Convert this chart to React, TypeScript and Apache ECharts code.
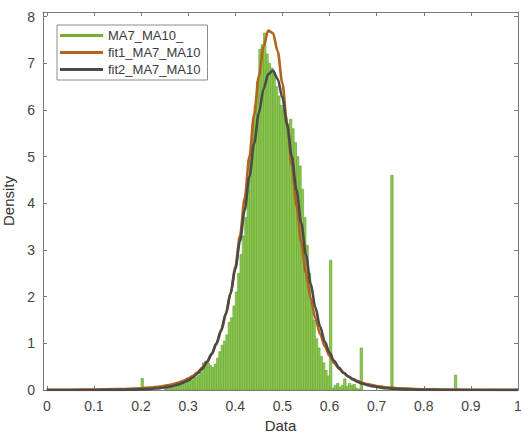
import React, { useEffect, useRef } from 'react';
import * as echarts from 'echarts';

// Histogram (density) — bins of width 0.005 starting at 0.25
const binWidth = 0.005;
const mainStart = 0.25;
const mainDensity = [
  0.02, 0.03, 0.04, 0.05, 0.06, 0.08, 0.09, 0.11, 0.13, 0.16, // 0.250-0.295
  0.18, 0.21, 0.24, 0.27, 0.31, 0.38, 0.58, 0.62, 0.57, 0.52, // 0.300-0.345
  0.48, 0.55, 0.68, 0.82, 0.96, 1.05, 1.18, 1.45, 1.55, 1.8, // 0.350-0.395
  2.1, 2.5, 2.9, 3.3, 3.7, 4.3, 5.0, 5.7, 6.1, 6.6, // 0.400-0.445
  7.3, 7.4, 7.65, 7.2, 7.0, 6.9, 6.8, 6.5, 6.3, 6.1, // 0.450-0.495
  6.0, 5.85, 5.7, 5.8, 5.6, 5.3, 5.0, 4.8, 4.3, 3.7, // 0.500-0.545
  3.1, 2.5, 1.9, 1.5, 1.1, 0.9, 0.72, 0.58, 0.42, 0.3, // 0.550-0.595
  2.78, 0.04, 0.1, 0.14, 0.06, 0.1, 0.24, 0.08, 0.14, 0.1, // 0.600-0.645
  0.12, 0.04, 0.02, 0.9, // 0.650-0.665
];
const spikeStarts = [0.2, 0.73, 0.865];
const spikeDensity = [0.25, 4.6, 0.32];

// Fitted curves
const fitX = [
  0, 0.05, 0.1, 0.15, 0.2, 0.22, 0.24,
  0.25, 0.26, 0.27, 0.28, 0.29, 0.3, 0.31, 0.32, 0.33, 0.34,
  0.35, 0.36, 0.37, 0.38, 0.39, 0.4, 0.41, 0.42, 0.43, 0.44,
  0.45, 0.46, 0.47, 0.48, 0.49, 0.5, 0.51, 0.52, 0.53, 0.54,
  0.55, 0.56, 0.57, 0.58, 0.59, 0.6, 0.61, 0.62, 0.63, 0.64,
  0.65, 0.66, 0.67, 0.68, 0.69, 0.7,
  0.72, 0.75, 0.8, 0.85, 0.9, 0.95, 1,
];
const fit1Y = [
  0.004, 0.005, 0.009, 0.018, 0.038, 0.053, 0.075,
  0.09, 0.108, 0.132, 0.161, 0.198, 0.244, 0.304, 0.38, 0.48, 0.606,
  0.77, 0.985, 1.26, 1.615, 2.07, 2.63, 3.31, 4.11, 5.0, 5.9,
  6.72, 7.36, 7.7, 7.65, 7.26, 6.57, 5.72, 4.81, 3.94, 3.16,
  2.51, 1.97, 1.54, 1.2, 0.937, 0.73, 0.578, 0.457, 0.363, 0.29,
  0.234, 0.19, 0.154, 0.127, 0.104, 0.086,
  0.06, 0.037, 0.017, 0.009, 0.005, 0.003, 0.002,
];
const fit2Y = [
  0, 0.0002, 0.001, 0.0035, 0.013, 0.023, 0.04,
  0.053, 0.07, 0.091, 0.12, 0.157, 0.206, 0.269, 0.352, 0.459, 0.597,
  0.774, 1.0, 1.285, 1.638, 2.07, 2.587, 3.186, 3.857, 4.572, 5.284,
  5.933, 6.45, 6.768, 6.845, 6.668, 6.263, 5.684, 5.0, 4.28, 3.58,
  2.9, 2.28, 1.77, 1.36, 1.04, 0.8, 0.62, 0.48, 0.37, 0.29,
  0.225, 0.175, 0.135, 0.105, 0.082, 0.063,
  0.037, 0.017, 0.0045, 0.0012, 0.0003, 0.0001, 0,
];

const seriesNames = ['MA7_MA10_', 'fit1_MA7_MA10', 'fit2_MA7_MA10'];

const FONT = "'Liberation Sans', Arial, sans-serif";
const AXIS_COLOR = '#7a7a7a';
const LABEL_COLOR = '#444';
const GREEN_FILL = '#8dc84f';
const GREEN_EDGE = '#6aa83a';
const GREEN_LEGEND = '#77ac30';
const ORANGE = '#b4631c';
const GRAY = '#4a4a4a';

export default function App() {
  const ref = useRef<HTMLDivElement>(null);
  useEffect(() => {
    const chart = echarts.init(ref.current!, null, { renderer: 'svg' });
    const histData = [
      ...mainDensity.map((d, i) => [mainStart + i * binWidth, mainStart + (i + 1) * binWidth, d]),
      ...spikeStarts.map((s, i) => [s, s + binWidth, spikeDensity[i]]),
    ];
    const xLabel = (v: number) => {
      const r = Math.round(v * 10) / 10;
      return v >= -1e-9 && Math.abs(v - r) < 1e-9 ? String(r) : '';
    };
    const yLabel = (v: number) => (Math.abs(v - Math.round(v)) < 1e-9 ? String(Math.round(v)) : '');
    const xCommon = {
      type: 'value',
      min: -0.008,
      max: 1,
      splitNumber: 10,
      splitLine: { show: false },
      axisLine: { show: true, onZero: false, lineStyle: { color: AXIS_COLOR, width: 1 } },
      axisTick: { show: true, inside: true, length: 4, lineStyle: { color: AXIS_COLOR } },
    };
    const yCommon = {
      type: 'value',
      min: 0,
      max: 8.1,
      splitNumber: 8,
      splitLine: { show: false },
      axisLine: { show: true, onZero: false, lineStyle: { color: AXIS_COLOR, width: 1 } },
      axisTick: { show: true, inside: true, length: 4, lineStyle: { color: AXIS_COLOR } },
    };
    const option: any = {
      animation: false,
      backgroundColor: '#fff',
      grid: { left: 43, right: 3, top: 12, bottom: 43, containLabel: false, outerBoundsMode: 'none' },
      legend: {
        orient: 'vertical',
        left: 57,
        top: 25,
        itemWidth: 43,
        itemHeight: 3,
        itemGap: 4,
        padding: [4, 7, 4, 3],
        borderColor: '#8c8c8c',
        borderWidth: 1,
        backgroundColor: '#fff',
        textStyle: { fontSize: 13, color: '#3a3a3a', fontFamily: FONT },
        data: [
          { name: seriesNames[0], icon: 'rect', itemStyle: { color: GREEN_LEGEND } },
          { name: seriesNames[1], icon: 'rect', itemStyle: { color: ORANGE } },
          { name: seriesNames[2], icon: 'rect', itemStyle: { color: GRAY } },
        ],
      },
      xAxis: [
        {
          ...xCommon,
          position: 'bottom',
          name: 'Data',
          nameLocation: 'middle',
          nameGap: 27,
          nameTextStyle: { fontSize: 15, color: '#333', fontFamily: FONT },
          axisLabel: { show: true, margin: 9, fontSize: 14, color: LABEL_COLOR, fontFamily: FONT, formatter: xLabel },
        },
        { ...xCommon, position: 'top', axisLabel: { show: false } },
      ],
      yAxis: [
        {
          ...yCommon,
          position: 'left',
          name: 'Density',
          nameLocation: 'middle',
          nameGap: 20,
          nameTextStyle: { fontSize: 15, color: '#333', fontFamily: FONT },
          axisLabel: { show: true, margin: 8, fontSize: 14, color: LABEL_COLOR, fontFamily: FONT, formatter: yLabel },
        },
        { ...yCommon, position: 'right', axisLabel: { show: false } },
      ],
      series: [
        {
          name: seriesNames[0],
          type: 'custom',
          xAxisIndex: 0,
          yAxisIndex: 0,
          clip: true,
          itemStyle: { color: GREEN_LEGEND },
          encode: { x: [0, 1], y: 2 },
          data: histData,
          renderItem: (params: any, api: any) => {
            const p0 = api.coord([api.value(0), api.value(2)]);
            const p1 = api.coord([api.value(1), 0]);
            return {
              type: 'rect',
              shape: { x: p0[0], y: p0[1], width: p1[0] - p0[0], height: p1[1] - p0[1] },
              style: { fill: GREEN_FILL, stroke: GREEN_EDGE, lineWidth: 0.7 },
            };
          },
        },
        {
          name: seriesNames[1],
          type: 'line',
          xAxisIndex: 0,
          yAxisIndex: 0,
          color: ORANGE,
          showSymbol: false,
          symbol: 'none',
          smooth: 0.3,
          smoothMonotone: 'x',
          lineStyle: { color: ORANGE, width: 2.6 },
          data: fitX.map((x, i) => [x, fit1Y[i]]),
        },
        {
          name: seriesNames[2],
          type: 'line',
          xAxisIndex: 0,
          yAxisIndex: 0,
          color: GRAY,
          showSymbol: false,
          symbol: 'none',
          smooth: 0.3,
          smoothMonotone: 'x',
          lineStyle: { color: GRAY, width: 2.6 },
          data: fitX.map((x, i) => [x, fit2Y[i]]),
        },
      ],
    };
    chart.setOption(option);
    return () => chart.dispose();
  }, []);
  return <div ref={ref} style={{ position: 'fixed', left: 0, top: 0, width: 521, height: 433 }} />;
}
